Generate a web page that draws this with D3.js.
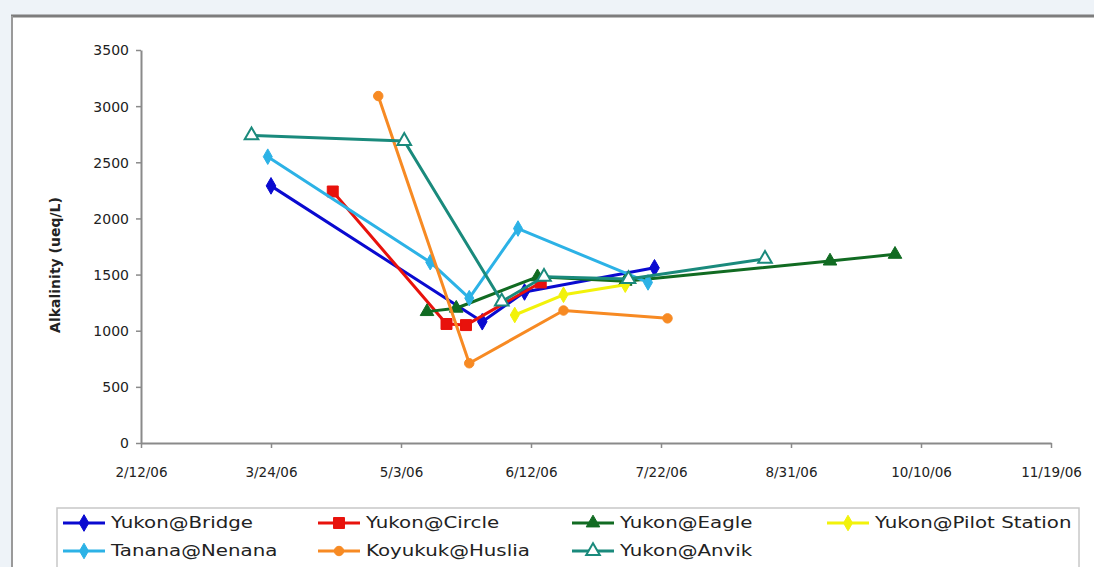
<!DOCTYPE html>
<html>
<head>
<meta charset="utf-8">
<script src="https://cdn.jsdelivr.net/npm/d3@7"></script>
<style>
  html, body { margin: 0; padding: 0; background: #eef3f8; }
  svg { display: block; }
</style>
</head>
<body>
<svg id="chart" width="1094" height="567"></svg>
<script>
// ---------------- DATA ----------------
const xTickLabels = ["2/12/06","3/24/06","5/3/06","6/12/06","7/22/06","8/31/06","10/10/06","11/19/06"];
const yTickValues = [0, 500, 1000, 1500, 2000, 2500, 3000, 3500];
const yTitle = "Alkalinity (ueq/L)";

const seriesNames = ["Yukon@Bridge","Yukon@Circle","Yukon@Eagle","Yukon@Pilot Station","Tanana@Nenana","Koyukuk@Huslia","Yukon@Anvik"];

const bridgeDates   = ["3/24/06","5/28/06","6/10/06","7/20/06"];
const bridgeValues  = [2290, 1080, 1345, 1560];

const circleDates   = ["4/12/06","5/17/06","5/23/06","6/15/06"];
const circleValues  = [2240, 1060, 1050, 1430];

const eagleDates    = ["5/11/06","5/20/06","6/14/06","7/11/06","9/12/06","10/2/06"];
const eagleValues   = [1170, 1200, 1480, 1440, 1620, 1680];

const pilotDates    = ["6/7/06","6/22/06","7/11/06"];
const pilotValues   = [1140, 1320, 1410];

const tananaDates   = ["3/23/06","5/12/06","5/24/06","6/8/06","7/18/06"];
const tananaValues  = [2550, 1610, 1290, 1910, 1430];

const koyukukDates  = ["4/26/06","5/24/06","6/22/06","7/24/06"];
const koyukukValues = [3090, 710, 1180, 1110];

const anvikDates    = ["3/18/06","5/4/06","6/3/06","6/16/06","7/12/06","8/23/06"];
const anvikValues   = [2740, 2690, 1260, 1480, 1460, 1640];

// ---------------- STYLES ----------------
const parse = d3.timeParse("%m/%d/%y");
const styles = [
  { color: "#0a0ad0", symbol: d3.symbolDiamond, size: 80, fill: null },
  { color: "#e8120c", symbol: d3.symbolSquare,  size: 120, fill: null },
  { color: "#116b22", symbol: d3.symbolTriangle, size: 80, fill: null },
  { color: "#f2f20a", symbol: d3.symbolDiamond, size: 70, fill: null },
  { color: "#2cb2e6", symbol: d3.symbolDiamond, size: 70, fill: null },
  { color: "#f78a23", symbol: d3.symbolCircle,  size: 70, fill: null },
  { color: "#1a8a7c", symbol: d3.symbolTriangle, size: 80, fill: "#ffffff" }
];
const seriesDates  = [bridgeDates, circleDates, eagleDates, pilotDates, tananaDates, koyukukDates, anvikDates];
const seriesValues = [bridgeValues, circleValues, eagleValues, pilotValues, tananaValues, koyukukValues, anvikValues];

const series = seriesNames.map((name, i) => ({
  name,
  style: styles[i],
  points: seriesDates[i].map((d, j) => ({ date: parse(d), value: seriesValues[i][j] }))
}));

// ---------------- LAYOUT ----------------
const svg = d3.select("#chart");
const plot = { left: 141, right: 1051, top: 50, bottom: 443 };
const FONT = "DejaVu Sans, Verdana, sans-serif";

// frame
svg.append("rect").attr("x", 12).attr("y", 17).attr("width", 1082).attr("height", 550).attr("fill", "#ffffff");
svg.append("line").attr("x1", 11).attr("x2", 1094).attr("y1", 16).attr("y2", 16).attr("stroke", "#7d7d7d").attr("stroke-width", 3);
svg.append("line").attr("x1", 12).attr("x2", 12).attr("y1", 16).attr("y2", 567).attr("stroke", "#9a9a9a").attr("stroke-width", 2);

const xTickDates = xTickLabels.map(parse);
const x = d3.scaleTime().domain([xTickDates[0], xTickDates[xTickDates.length - 1]]).range([plot.left, plot.right]);
const y = d3.scaleLinear().domain([0, 3500]).range([plot.bottom, plot.top]);

// axes
const xAxis = d3.axisBottom(x).tickValues(xTickDates).tickSize(5).tickSizeOuter(0).tickFormat((d, i) => xTickLabels[i]);
const gx = svg.append("g").attr("transform", `translate(0,${plot.bottom})`).call(xAxis);
const yAxis = d3.axisLeft(y).tickValues(yTickValues).tickSize(5).tickSizeOuter(0).tickFormat(d3.format("d"));
const gy = svg.append("g").attr("transform", `translate(${plot.left},0)`).call(yAxis);

[gx, gy].forEach(g => {
  g.select(".domain").attr("stroke", "#8a8a8a").attr("stroke-width", 2);
  g.selectAll(".tick line").attr("stroke", "#8a8a8a").attr("stroke-width", 1.5);
  g.selectAll(".tick text").attr("font-family", FONT).attr("fill", "#222");
});
gx.selectAll(".tick text").attr("font-size", 13.5).attr("dy", "1.9em");
gy.selectAll(".tick text").attr("font-size", 14).attr("x", -12).attr("dy", "0.35em");

// y title
svg.append("text")
  .attr("transform", `translate(60,265) rotate(-90)`)
  .attr("text-anchor", "middle")
  .attr("font-family", FONT).attr("font-size", 14).attr("font-weight", "bold").attr("fill", "#222")
  .text(yTitle);

// lines + markers
const line = d3.line().x(d => x(d.date)).y(d => y(d.value));
const gSeries = svg.append("g");
series.forEach(s => {
  const g = gSeries.append("g");
  g.append("path").datum(s.points).attr("d", line)
    .attr("fill", "none").attr("stroke", s.style.color).attr("stroke-width", 3).attr("stroke-linejoin", "round");
  g.selectAll("path.m").data(s.points).join("path").attr("class", "m")
    .attr("transform", d => `translate(${x(d.date)},${y(d.value)})`)
    .attr("d", d3.symbol().type(s.style.symbol).size(s.style.size))
    .attr("fill", s.style.fill || s.style.color)
    .attr("stroke", s.style.color).attr("stroke-width", s.style.fill ? 2 : 1);
});

// legend
svg.append("rect").attr("x", 57).attr("y", 508).attr("width", 1022).attr("height", 70)
  .attr("fill", "#ffffff").attr("stroke", "#c8c8c8").attr("stroke-width", 1.5);
const legCols = [63, 318, 572, 827];
const legRows = [523, 551];
series.forEach((s, i) => {
  const lx = legCols[i % 4], ly = legRows[Math.floor(i / 4)];
  const g = svg.append("g").attr("transform", `translate(${lx},${ly})`);
  g.append("line").attr("x1", 0).attr("x2", 42).attr("y1", 0).attr("y2", 0)
    .attr("stroke", s.style.color).attr("stroke-width", 3);
  g.append("path").attr("transform", "translate(21,0)")
    .attr("d", d3.symbol().type(s.style.symbol).size(s.style.size))
    .attr("fill", s.style.fill || s.style.color)
    .attr("stroke", s.style.color).attr("stroke-width", s.style.fill ? 2 : 1);
  g.append("text").attr("x", 0).attr("y", 0).attr("dy", "0.36em")
    .attr("font-family", FONT).attr("font-size", 15).attr("fill", "#222")
    .attr("transform", "translate(48,0) scale(1.32,1)")
    .text(s.name);
});
</script>
</body>
</html>
